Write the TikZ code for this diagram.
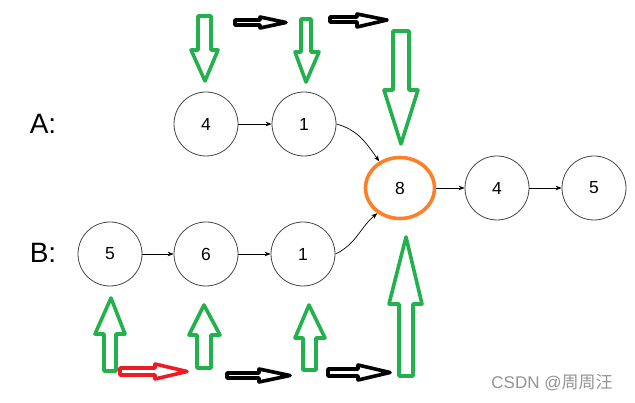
\documentclass[tikz,border=0pt]{standalone}
\usepackage{fontspec}
\setmainfont{Liberation Sans}
\newfontfamily\cjk{Noto Sans CJK SC}
\usetikzlibrary{arrows.meta,shapes.geometric}
\definecolor{pgreen}{HTML}{22B14C}
\definecolor{pred}{HTML}{ED1C24}
\definecolor{porange}{HTML}{FF7F27}
\definecolor{cgrey}{HTML}{444444}
\tikzset{
  listnode/.style={circle, draw=cgrey, line width=0.8pt, minimum size=64pt, inner sep=0pt, font=\fontsize{17.5}{20}\selectfont},
  hitnode/.style={ellipse, draw=porange, line width=3.6pt, minimum width=69pt, minimum height=61pt, inner sep=0pt, font=\fontsize{17.5}{20}\selectfont},
  link/.style={-{Stealth[length=6pt,width=4.5pt]}, line width=0.7pt, black},
  greenblock/.style={draw=pgreen, line width=3.6pt, line join=round},
  blackblock/.style={draw=black, line width=3.6pt, line join=round},
  redblock/.style={draw=pred, line width=3.6pt, line join=round},
  listlabel/.style={font=\fontsize{28}{32}\selectfont}
}
\begin{document}
\begin{tikzpicture}[x=1pt,y=-1pt]
\useasboundingbox (0,0) rectangle (635,403);
% labels
\node[listlabel] (la) at (43,124) {A:};
\node[listlabel] (lb) at (43,253) {B:};
% nodes
\node[listnode] (a4) at (206,124) {4};
\node[listnode] (a1) at (304,124) {1};
\node[listnode] (b5) at (110,254) {5};
\node[listnode] (b6) at (206,254) {6};
\node[listnode] (b1) at (303,254) {1};
\node[hitnode] (c8) at (400,188) {8};
\node[listnode] (c4) at (497,188) {4};
\node[listnode] (c5) at (594,188) {5};
% links
\draw[link] (a4) -- (a1);
\draw[link] (b5) -- (b6);
\draw[link] (b6) -- (b1);
\draw[link] (c8) -- (c4);
\draw[link] (c4) -- (c5);
\draw[link] (a1.east) to[out=-15,in=125] (c8.128);
\draw[link] (b1.east) to[out=25,in=220] (c8.228);
% green down arrows (top)
\draw[greenblock] (198,16) -- (211,16) -- (211,50) -- (218,50) -- (205,81) -- (191,50) -- (198,50) -- cycle;
\draw[greenblock] (301,19) -- (311,19) -- (311,52) -- (319,52) -- (306,82) -- (295,52) -- (301,52) -- cycle;
\draw[greenblock] (393,31) -- (409,31) -- (409,90) -- (418,90) -- (401,144) -- (384,90) -- (393,90) -- cycle;
% green up arrows (bottom)
\draw[greenblock] (104,371) -- (116,371) -- (116,334) -- (125,334) -- (111,298) -- (95,334) -- (104,334) -- cycle;
\draw[greenblock] (197,368) -- (211,368) -- (211,335) -- (220,335) -- (204,305) -- (189,335) -- (197,335) -- cycle;
\draw[greenblock] (303,370) -- (316,370) -- (316,338) -- (325,338) -- (309,305) -- (295,338) -- (303,338) -- cycle;
\draw[greenblock] (399,376) -- (413,376) -- (413,304) -- (422,304) -- (406,237) -- (389,304) -- (399,304) -- cycle;
% black top arrows
\draw[blackblock] (235,20) -- (260,20) -- (260,17) -- (286,22.5) -- (260,28) -- (260,25) -- (235,25) -- cycle;
\draw[blackblock] (330,17) -- (357,17) -- (357,14) -- (387,20) -- (357,27) -- (357,22) -- (330,22) -- cycle;
% bottom horizontal arrows
\draw[redblock] (120,368) -- (155,368) -- (155,364) -- (187,371.5) -- (155,379) -- (155,375) -- (120,375) -- cycle;
\draw[blackblock] (227,373) -- (259,373) -- (259,369) -- (290,375.5) -- (259,382) -- (259,378) -- (227,378) -- cycle;
\draw[blackblock] (328,369) -- (358,369) -- (358,365) -- (390,372.5) -- (358,380) -- (358,376) -- (328,376) -- cycle;
% watermark
\node[text=gray!85, font=\fontsize{17}{20}\selectfont] (wm) at (552,383) {CSDN @{\cjk 周周汪}};
\end{tikzpicture}
\end{document}
